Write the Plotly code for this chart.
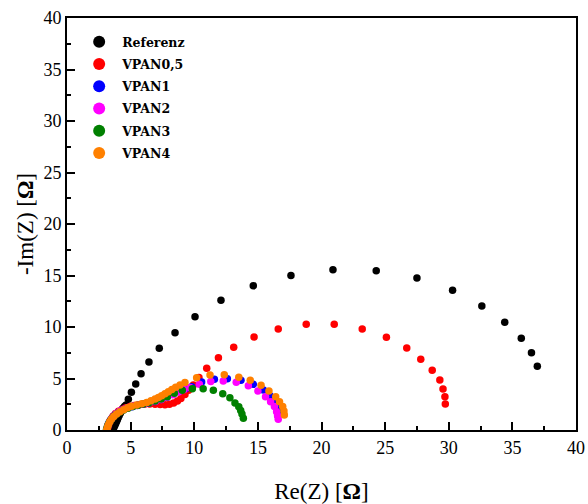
import plotly.graph_objects as go

# Nyquist data: Re(Z) and -Im(Z) in Ohm
ref_re = [3.60, 3.65, 3.70, 3.76, 3.82, 3.88, 3.95, 4.02, 4.10, 4.19, 4.29, 4.40, 4.52,
          4.64, 4.82, 5.06, 5.40, 5.82, 6.44, 7.25, 8.49, 10.06, 12.1, 14.64, 17.6,
          20.9, 24.3, 27.5, 30.3, 32.6, 34.4, 35.7, 36.5, 36.96]
ref_im = [0.00, 0.15, 0.30, 0.45, 0.62, 0.80, 0.98, 1.18, 1.40, 1.63, 1.88, 2.10, 2.28,
          2.43, 2.98, 3.66, 4.47, 5.47, 6.60, 7.93, 9.45, 11.0, 12.6, 14.0, 15.0,
          15.56, 15.47, 14.76, 13.56, 12.04, 10.46, 8.90, 7.50, 6.20]

v05_re = [3.15, 3.20, 3.27, 3.36, 3.48, 3.63, 3.82, 4.05, 4.32, 4.62, 4.95, 5.30, 5.68,
          6.08, 6.50, 6.92, 7.32, 7.70, 8.05, 8.38, 8.68, 8.95, 9.27, 9.55, 9.93, 10.37,
          10.98, 11.9, 13.1, 14.7, 16.6, 18.8, 21.0, 23.2, 25.1, 26.7, 27.8, 28.7, 29.3,
          29.55, 29.7, 29.73]
v05_im = [0.00, 0.25, 0.52, 0.80, 1.08, 1.35, 1.60, 1.82, 2.00, 2.15, 2.28, 2.38, 2.45,
          2.50, 2.52, 2.50, 2.47, 2.45, 2.50, 2.62, 2.82, 3.07, 3.45, 3.85, 4.37, 5.10,
          6.00, 7.02, 8.03, 9.02, 9.80, 10.26, 10.26, 9.80, 9.00, 7.96, 6.86, 5.80, 4.85,
          3.98, 3.24, 2.52]

v1_re = [3.12, 3.17, 3.24, 3.33, 3.45, 3.60, 3.80, 4.05, 4.35, 4.70, 5.10, 5.52, 5.96,
         6.42, 6.90, 7.38, 7.86, 8.35, 8.85, 9.35, 9.80, 10.58, 11.58, 12.6, 13.67,
         14.64, 15.43, 15.95, 16.35, 16.5, 16.55, 16.58]
v1_im = [0.00, 0.25, 0.50, 0.75, 1.00, 1.25, 1.50, 1.73, 1.93, 2.10, 2.25, 2.38, 2.50,
         2.62, 2.76, 2.95, 3.18, 3.46, 3.78, 4.02, 4.20, 4.66, 4.92, 4.98, 4.82,
         4.43, 3.88, 3.33, 2.75, 2.27, 1.80, 1.40]

v2_re = [3.14, 3.19, 3.26, 3.36, 3.50, 3.68, 3.90, 4.17, 4.48, 4.83, 5.22, 5.63, 6.06,
         6.50, 6.95, 7.40, 7.85, 8.30, 8.75, 9.20, 9.67, 10.4, 11.3, 12.28, 13.3, 14.25,
         15.0, 15.6, 16.0, 16.3, 16.47, 16.55, 16.6]
v2_im = [0.00, 0.28, 0.56, 0.84, 1.12, 1.38, 1.62, 1.84, 2.02, 2.18, 2.32, 2.44, 2.55,
         2.66, 2.80, 2.97, 3.18, 3.42, 3.68, 3.92, 4.12, 4.43, 4.70, 4.76, 4.63, 4.30,
         3.79, 3.24, 2.75, 2.27, 1.78, 1.39, 1.04]

v3_re = [3.10, 3.15, 3.22, 3.30, 3.40, 3.53, 3.70, 3.90, 4.15, 4.45, 4.80, 5.18, 5.58,
         6.00, 6.45, 6.92, 7.40, 7.88, 8.43, 9.06, 9.85, 10.7, 11.5, 12.24, 12.8, 13.2,
         13.5, 13.65, 13.75, 13.86]
v3_im = [0.00, 0.22, 0.45, 0.68, 0.90, 1.12, 1.35, 1.55, 1.75, 1.95, 2.12, 2.27, 2.40,
         2.52, 2.65, 2.82, 3.00, 3.22, 3.56, 3.85, 4.00, 4.00, 3.85, 3.52, 3.12, 2.63,
         2.25, 1.90, 1.55, 1.15]

v4_re = [3.12, 3.17, 3.25, 3.36, 3.50, 3.68, 3.90, 4.16, 4.45, 4.76, 5.08, 5.48, 5.87,
         6.26, 6.60, 6.92, 7.18, 7.44, 7.70, 7.96, 8.24, 8.54, 8.88, 9.27, 10.19, 11.24,
         12.36, 13.5, 14.4, 15.25, 15.87, 16.4, 16.7, 16.95, 17.05, 17.08]
v4_im = [0.00, 0.25, 0.52, 0.80, 1.06, 1.32, 1.56, 1.78, 1.97, 2.15, 2.30, 2.43, 2.55,
         2.68, 2.84, 3.00, 3.16, 3.33, 3.52, 3.72, 3.93, 4.14, 4.37, 4.60, 5.07, 5.34,
         5.37, 5.12, 4.82, 4.34, 3.79, 3.24, 2.75, 2.27, 1.84, 1.46]

series_names = ["Referenz", "VPAN0,5", "VPAN1", "VPAN2", "VPAN3", "VPAN4"]
series_colors = ["#000000", "#ff0000", "#0000ff", "#ff00ff", "#008000", "#ff8000"]
series_re = [ref_re, v05_re, v1_re, v2_re, v3_re, v4_re]
series_im = [ref_im, v05_im, v1_im, v2_im, v3_im, v4_im]

FONT = "Liberation Serif"

fig = go.Figure()
for name, color, xs, ys in zip(series_names, series_colors, series_re, series_im):
    fig.add_trace(go.Scatter(
        x=xs, y=ys, name=name, mode="markers", legendgroup=name,
        marker=dict(color=color, size=7.5, line=dict(width=0)),
    ))

axis_common = dict(
    range=[0, 40], dtick=5, showgrid=False, zeroline=False,
    showline=True, linecolor="black", linewidth=2, mirror=True,
    ticks="inside", ticklen=8, tickwidth=2, tickcolor="black",
    minor=dict(ticks="inside", ticklen=4, tickwidth=1.5, tickcolor="black", dtick=2.5),
    tickfont=dict(family=FONT, size=18, color="black"),
    automargin=False,
)

fig.update_xaxes(
    **axis_common,
    title=dict(text="Re(Z) [<b>Ω</b>]", font=dict(family=FONT, size=23, color="black"), standoff=28),
)
fig.update_yaxes(
    **axis_common,
    title=dict(text="-Im(Z) [<b>Ω</b>]", font=dict(family=FONT, size=23, color="black"), standoff=3),
)

fig.update_layout(
    width=588, height=504,
    margin=dict(l=67, r=12, t=18, b=74),
    plot_bgcolor="white", paper_bgcolor="white",
    legend=dict(
        x=0.018, y=0.978, xanchor="left", yanchor="top",
        bgcolor="rgba(0,0,0,0)", borderwidth=0,
        font=dict(family="DejaVu Serif", size=12.5, color="black", weight="bold"),
        itemsizing="constant", tracegroupgap=3, itemwidth=36,
    ),
)

fig.write_html("out.html")
